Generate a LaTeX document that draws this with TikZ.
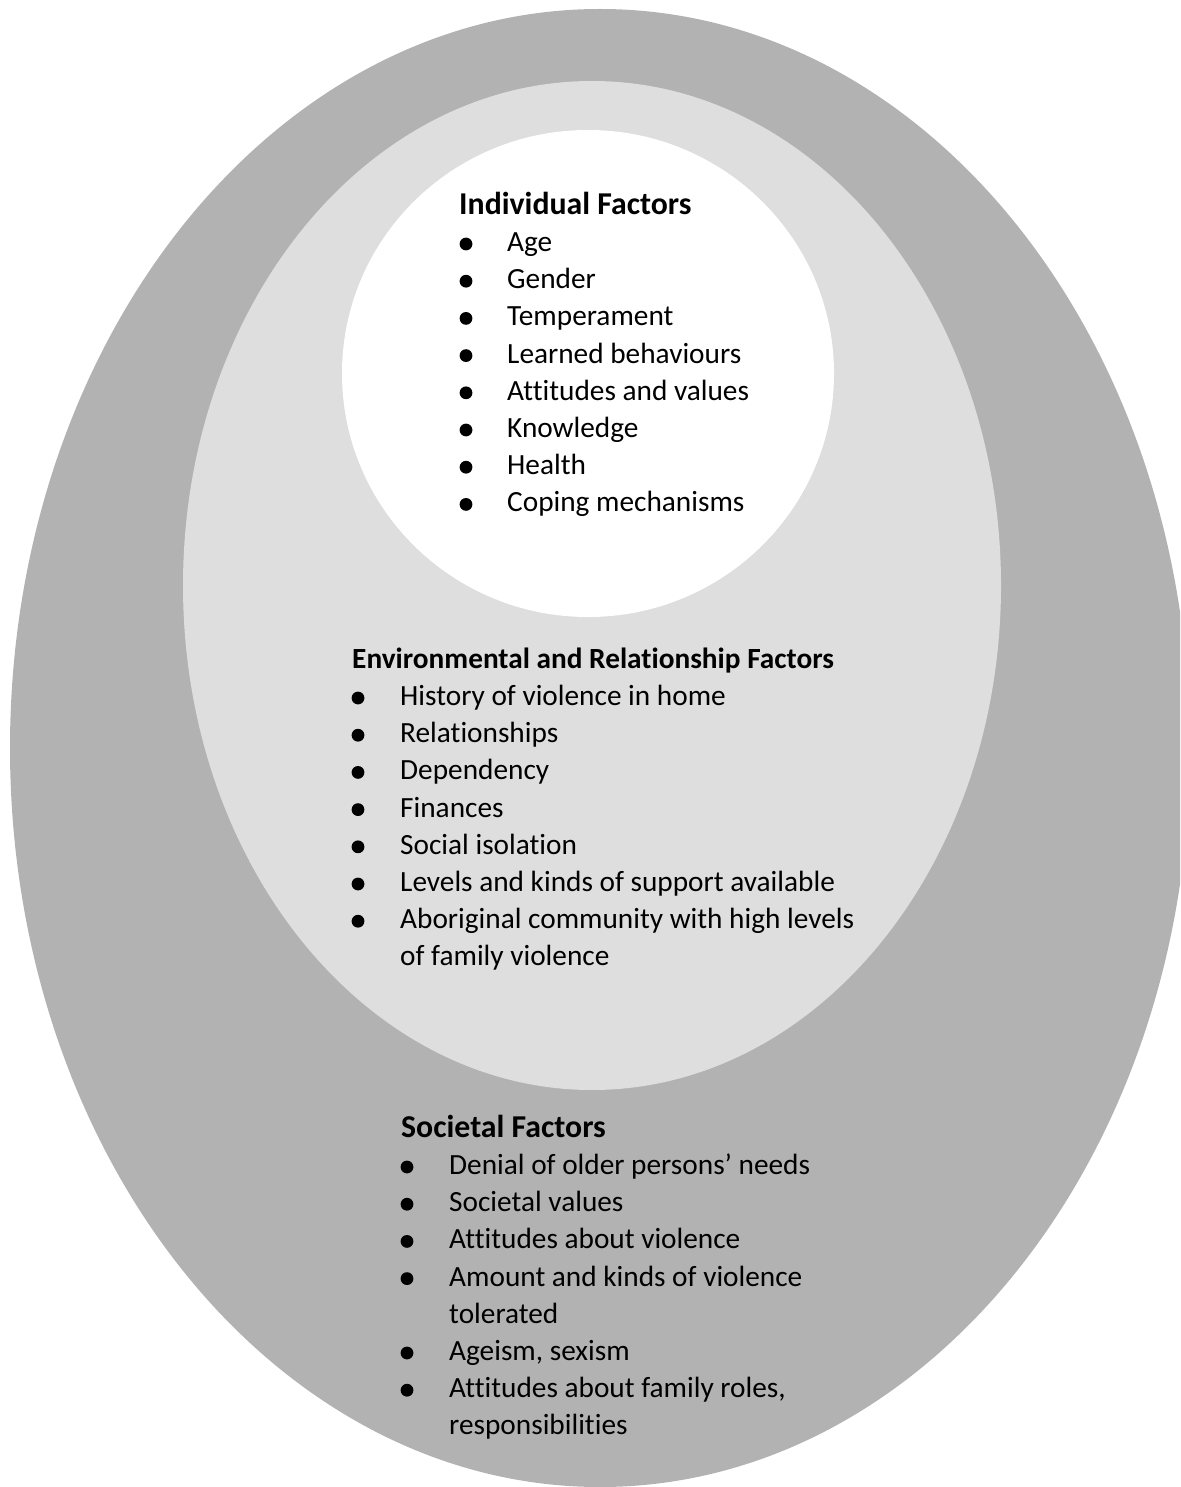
\documentclass[tikz,border=0pt]{standalone}
\usepackage{fontspec}
\setmainfont{Carlito}[RawFeature={-liga;-clig;-dlig}]
\definecolor{outergray}{RGB}{178,178,178}
\definecolor{midgray}{RGB}{222,222,222}
\tikzset{
  body/.style={anchor=base west, inner sep=0pt, font=\fontsize{29.3}{37.2}\selectfont},
  head/.style={anchor=base west, inner sep=0pt, font=\fontsize{31.8}{38}\selectfont\bfseries},
  headsmall/.style={anchor=base west, inner sep=0pt, font=\fontsize{29.3}{37.2}\selectfont\bfseries},
  bul/.style={circle, fill=black, inner sep=0pt, minimum size=12.8pt}
}
\begin{document}
\begin{tikzpicture}[x=1pt,y=-1pt]
\useasboundingbox (0,0) rectangle (1180,1487);
\clip (0,0) rectangle (1180,1487);
\fill[outergray] (600,748) ellipse [x radius=590pt, y radius=739pt];
\fill[midgray] (592,585.5) ellipse [x radius=409pt, y radius=504.5pt];
\fill[white] (588,373.5) ellipse [x radius=246pt, y radius=243.5pt];

% Individual factors
\node[head] (ih) at (459,214.5) {Individual Factors};
\foreach \t [count=\i] in {Age,Gender,Temperament,Learned behaviours,Attitudes and values,Knowledge,Health,Coping mechanisms}{
  \node[bul] (ib\i) at (466,{251.5+37.2*(\i-1)-7.5}) {};
  \node[body] (it\i) at (507,{251.5+37.2*(\i-1)}) {\t};
}

% Environmental and relationship factors
\node[headsmall] (eh) at (352,668.5) {Environmental and Relationship Factors};
\foreach \t [count=\i] in {History of violence in home,Relationships,Dependency,Finances,Social isolation,Levels and kinds of support available,Aboriginal community with high levels}{
  \node[bul] (eb\i) at (358,{705.5+37.2*(\i-1)-7.5}) {};
  \node[body] (et\i) at (400,{705.5+37.2*(\i-1)}) {\t};
}
\node[body] (et8) at (400,{705.5+37.2*7}) {of family violence};

% Societal factors
\node[head] (sh) at (401,1137.5) {Societal Factors};
\node[bul] (sb1) at (407,1167) {};
\node[body] (st1) at (449,1174.5) {Denial of older persons’ needs};
\node[bul] (sb2) at (407,1204.2) {};
\node[body] (st2) at (449,1211.7) {Societal values};
\node[bul] (sb3) at (407,1241.4) {};
\node[body] (st3) at (449,1248.9) {Attitudes about violence};
\node[bul] (sb4) at (407,1278.6) {};
\node[body] (st4) at (449,1286.1) {Amount and kinds of violence};
\node[body] (st5) at (449,1323.3) {tolerated};
\node[bul] (sb6) at (407,1353) {};
\node[body] (st6) at (449,1360.5) {Ageism, sexism};
\node[bul] (sb7) at (407,1390.2) {};
\node[body] (st7) at (449,1397.7) {Attitudes about family roles,};
\node[body] (st8) at (449,1434.9) {responsibilities};
\end{tikzpicture}
\end{document}
